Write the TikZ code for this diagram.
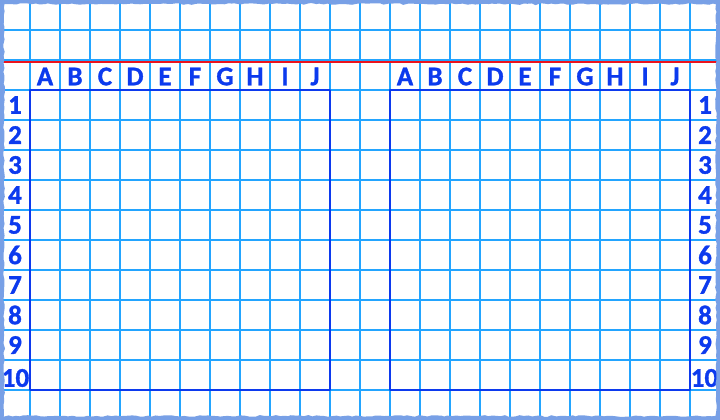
\documentclass[tikz,border=0pt]{standalone}
\usepackage{fontspec}
\setmainfont[BoldFeatures={FakeBold=1.2}]{Carlito}
\usetikzlibrary{decorations.pathmorphing}
\definecolor{gridblue}{RGB}{35,165,255}
\definecolor{inkblue}{RGB}{12,58,238}
\definecolor{edgeblue}{RGB}{120,160,230}
\definecolor{redline}{RGB}{235,20,30}
\begin{document}
\begin{tikzpicture}[x=1pt,y=-1pt,
  lab/.style={text=inkblue,font=\bfseries\fontsize{27}{27}\selectfont,inner sep=0pt,anchor=center},
  gridline/.style={gridblue,line width=1.6pt},
  board/.style={draw=inkblue,line width=2.8pt,line join=round}]
\useasboundingbox (0,0) rectangle (720,420);
\fill[white] (0,0) rectangle (720,420);
\foreach \i in {1,...,23} \draw[gridline] (\i*30,0) -- (\i*30,420);
\foreach \j in {1,...,13} \draw[gridline] (0,\j*30) -- (720,\j*30);
\draw[redline,line width=2pt] (0,62.5) -- (720,62.5);
% boards
\draw[board] (30,90) rectangle (330,390);
\draw[board] (390,90) rectangle (690,390);
% letters
\foreach \L [count=\k from 0] in {A,B,C,D,E,F,G,H,I,J}{
  \node[lab] (la\k) at (45+30*\k,76.5) {\L};
  \node[lab] (ra\k) at (405+30*\k,76.5) {\L};
}
% numbers
\foreach \n [count=\k from 0] in {1,...,9}{
  \node[lab] (ln\k) at (15,105+30*\k) {\n};
  \node[lab] (rn\k) at (705,105+30*\k) {\n};
}
\node[lab] (ln9) at (15.5,378) {10};
\node[lab] (rn9) at (704.5,378) {10};
% ragged frame
\draw[edgeblue,line width=8pt,decorate,decoration={random steps,segment length=4pt,amplitude=0.8pt}] (0,0) rectangle (720,420);
\end{tikzpicture}
\end{document}
